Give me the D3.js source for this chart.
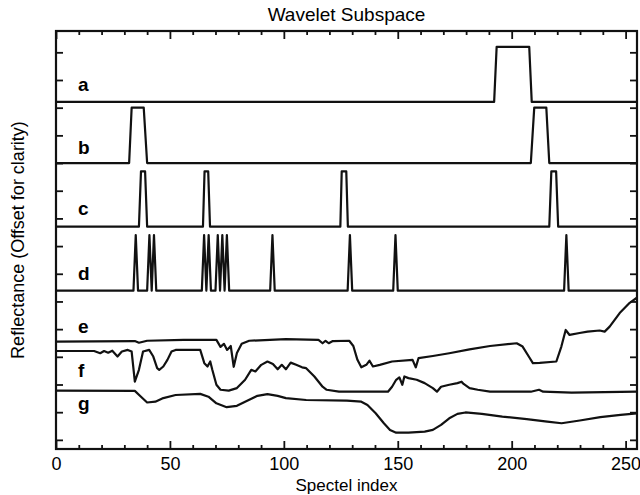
<!DOCTYPE html>
<html><head><meta charset="utf-8">
<script src="https://cdn.jsdelivr.net/npm/d3@7"></script>
<style>
html,body{margin:0;padding:0;background:#fff;}
svg{display:block;}
text{font-family:"Liberation Sans",Arial,Helvetica,sans-serif;fill:#000;}
</style></head>
<body>
<svg id="chart" width="640" height="495"></svg>
<script>
// ---- data (spectel index, offset reflectance) ----
const aX = [0, 192.3, 193.4, 207.7, 208.8, 255];
const aY = [12.21, 12.21, 14.2, 14.2, 12.21, 12.21];

const bX = [0, 32.1, 33.2, 38.5, 40.0, 208.4, 209.9, 215.2, 216.5, 255];
const bY = [10.0, 10.0, 12.0, 12.0, 10.0, 10.0, 12.0, 12.0, 10.0, 10.0];

const cX = [0, 36.4, 37.3, 39.1, 40.0, 64.5, 65.2, 66.8, 67.6, 124.8, 125.4, 127.4, 128.1, 216.5, 217.4, 219.5, 220.4, 255];
const cY = [7.7, 7.7, 9.7, 9.7, 7.7, 7.7, 9.7, 9.7, 7.7, 7.7, 9.7, 9.7, 7.7, 7.7, 9.7, 9.7, 7.7, 7.7];

const dX = [0, 34, 35, 36, 40, 41, 42, 43, 44, 64, 65, 66, 67, 68, 70, 71, 72, 73, 74, 75, 76, 94, 95, 96, 128, 129, 130, 148, 149, 150, 223, 224, 225, 255];
const dY = [5.39, 5.39, 7.4, 5.39, 5.39, 7.4, 5.39, 7.4, 5.39, 5.39, 7.4, 5.39, 7.4, 5.39, 5.39, 7.4, 5.39, 7.4, 5.39, 7.4, 5.39, 5.39, 7.4, 5.39, 5.39, 7.4, 5.39, 5.39, 7.4, 5.39, 5.39, 7.4, 5.39, 5.39];

const eX = [0, 34.6, 36.4, 40, 56, 70.4, 72.2, 73.7, 75.1, 76.7, 78, 79.4, 81.5, 84.8, 100.9, 115.2, 117, 118.3, 119.7, 121.5, 128.7, 130.5, 132.3, 134, 136.2, 137.6, 139.1, 142.1, 147.5, 156.5, 157.9, 159.1, 165.4, 172.6, 181.5, 190.5, 202.2, 204.8, 207.5, 209.3, 212.3, 219.6, 221.8, 223.7, 225.4, 229.8, 233.3, 238.6, 240.8, 243, 247.4, 251.8, 254.8];
const eY = [3.55, 3.57, 3.51, 3.58, 3.61, 3.61, 3.36, 3.47, 3.25, 3.39, 2.64, 3.14, 3.47, 3.58, 3.64, 3.61, 3.49, 3.58, 3.49, 3.57, 3.58, 3.39, 2.89, 2.62, 2.71, 2.86, 2.65, 2.71, 2.83, 2.89, 2.62, 2.95, 3.03, 3.13, 3.27, 3.39, 3.49, 3.37, 3.01, 2.77, 2.78, 2.83, 3.37, 3.97, 3.79, 3.86, 3.91, 3.95, 3.91, 4.09, 4.58, 4.95, 5.13];

const fX = [0, 16.7, 19.4, 21.1, 22.9, 24.7, 27, 28.9, 31.5, 33.2, 34.6, 36.4, 38.2, 40.9, 42.7, 44.4, 45.3, 47.1, 48.9, 50.7, 52.5, 63.3, 65.1, 66.5, 67.7, 68.6, 70.4, 72.2, 75.8, 79.4, 83, 85.7, 87.5, 90.1, 92.8, 95.2, 97.3, 99.1, 100.9, 103, 105.4, 108, 109.8, 113.4, 117, 118.8, 124.2, 145.7, 147.5, 149.3, 150.7, 152, 152.9, 154.7, 158.3, 161.8, 165.4, 167.2, 169, 172.6, 176.2, 178, 178.9, 181.5, 185.1, 190.5, 208.4, 212, 213.8, 226.3, 255];
const fY = [3.21, 3.21, 3.13, 3.21, 3.15, 3.22, 3.01, 3.19, 3.25, 3.19, 2.10, 2.53, 3.19, 3.25, 3.01, 2.59, 2.53, 2.65, 2.89, 3.19, 3.25, 3.25, 2.77, 2.65, 2.83, 2.53, 1.99, 1.81, 1.78, 1.87, 2.17, 2.53, 2.47, 2.71, 2.83, 2.74, 2.55, 2.71, 2.55, 2.79, 2.71, 2.62, 2.59, 2.29, 1.92, 1.81, 1.74, 1.74, 1.92, 2.17, 2.26, 1.99, 2.29, 2.23, 2.17, 2.05, 1.87, 1.74, 1.92, 1.99, 2.05, 2.10, 2.02, 1.87, 1.81, 1.74, 1.74, 1.81, 1.74, 1.71, 1.74];

const gX = [0, 34.6, 37.3, 40, 43.6, 47.1, 52.5, 63.3, 66.9, 70.4, 74.9, 79.4, 83, 88.4, 92.8, 97.3, 100.9, 109.8, 127.7, 134, 136.7, 140.3, 143.9, 146.6, 149.3, 154.7, 161.8, 165.4, 169, 172.6, 176.2, 179.7, 186.9, 195.9, 206.6, 215.6, 221.9, 229.9, 238.9, 247.8, 255];
const gY = [1.78, 1.77, 1.56, 1.35, 1.38, 1.51, 1.62, 1.66, 1.56, 1.32, 1.18, 1.23, 1.38, 1.59, 1.65, 1.59, 1.51, 1.44, 1.42, 1.38, 1.26, 0.96, 0.60, 0.36, 0.26, 0.26, 0.30, 0.36, 0.54, 0.78, 0.94, 0.99, 0.94, 0.84, 0.75, 0.66, 0.60, 0.70, 0.82, 0.90, 0.96];

const seriesNames = ["a", "b", "c", "d", "e", "f", "g"];
const labelLevels = [12.85, 10.55, 8.35, 6.0, 4.1, 2.5, 1.3];

const xMajorTicks = [0, 50, 100, 150, 200, 250];
const xMinorTicks = [10, 20, 30, 40, 60, 70, 80, 90, 110, 120, 130, 140, 160, 170, 180, 190, 210, 220, 230, 240];
const yTicks = [0, 1, 2, 3, 4, 5, 6, 7, 8, 9, 10, 11, 12, 13, 14];

const titleText = "Wavelet Subspace";
const xTitle = "Spectel index";
const yTitle = "Reflectance (Offset for clarity)";

// ---- chart ----
const svg = d3.select("#chart");
const L = 56, R = 637, T = 31, B = 449;
const x = d3.scaleLinear().domain([0, 255]).range([L, R]);
const y = d3.scaleLinear().domain([-0.33, 14.77]).range([B, T]);

const traces = [[aX, aY], [bX, bY], [cX, cY], [dX, dY], [eX, eY], [fX, fY], [gX, gY]];
const line = d3.line().x(d => x(d[0])).y(d => y(d[1]));

svg.append("clipPath").attr("id", "clip")
  .append("rect").attr("x", L).attr("y", T).attr("width", R - L).attr("height", B - T);

const plot = svg.append("g").attr("clip-path", "url(#clip)");
traces.forEach(([xs, ys]) => {
  plot.append("path")
    .datum(xs.map((v, i) => [v, ys[i]]))
    .attr("d", line)
    .attr("fill", "none")
    .attr("stroke", "#111")
    .attr("stroke-width", 2.2)
    .attr("stroke-linejoin", "round");
});

// axes
function styleAxis(g) {
  g.select(".domain").remove();
  g.selectAll("line").attr("stroke", "#111").attr("stroke-width", 1.8);
}
svg.append("g").attr("transform", `translate(0,${B})`)
  .call(d3.axisBottom(x).tickValues(xMajorTicks).tickSize(-8).tickPadding(8).tickFormat(d3.format("d")))
  .call(styleAxis)
  .call(g => g.selectAll("text").style("font-size", "18px").style("font-family", "'Liberation Sans',Arial,sans-serif").attr("fill", "#111"));
svg.append("g").attr("transform", `translate(0,${B})`)
  .call(d3.axisBottom(x).tickValues(xMinorTicks).tickSize(-4).tickFormat(""))
  .call(styleAxis);
svg.append("g").attr("transform", `translate(0,${T})`)
  .call(d3.axisTop(x).tickValues(xMajorTicks).tickSize(-8).tickFormat(""))
  .call(styleAxis);
svg.append("g").attr("transform", `translate(0,${T})`)
  .call(d3.axisTop(x).tickValues(xMinorTicks).tickSize(-4).tickFormat(""))
  .call(styleAxis);
svg.append("g").attr("transform", `translate(${L},0)`)
  .call(d3.axisLeft(y).tickValues(yTicks).tickSize(-7).tickFormat(""))
  .call(styleAxis);
svg.append("g").attr("transform", `translate(${R},0)`)
  .call(d3.axisRight(y).tickValues(yTicks).tickSize(-7).tickFormat(""))
  .call(styleAxis);

svg.append("rect").attr("x", L).attr("y", T).attr("width", R - L).attr("height", B - T)
  .attr("fill", "none").attr("stroke", "#111").attr("stroke-width", 2.2);

// series labels
svg.selectAll(".lab").data(seriesNames).enter().append("text")
  .attr("x", 78).attr("y", (d, i) => y(labelLevels[i]))
  .attr("dominant-baseline", "central")
  .style("font-size", "19px").style("font-weight", "bold")
  .text(d => d);

// titles
svg.append("text").attr("x", (L + R) / 2).attr("y", 21).attr("text-anchor", "middle")
  .style("font-size", "19px").text(titleText);
svg.append("text").attr("x", (L + R) / 2).attr("y", 491).attr("text-anchor", "middle")
  .style("font-size", "17px").text(xTitle);
svg.append("text").attr("transform", `translate(24,${(T + B) / 2}) rotate(-90)`)
  .attr("text-anchor", "middle").style("font-size", "18px").text(yTitle);
</script>
</body></html>
